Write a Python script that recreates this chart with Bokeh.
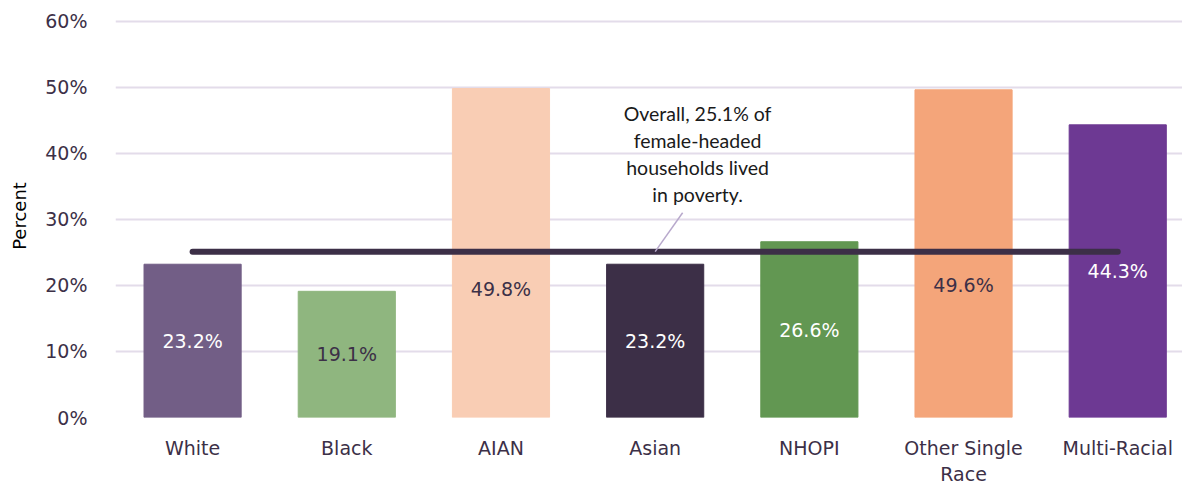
from bokeh.plotting import figure
from bokeh.models import Range1d, FixedTicker, ColumnDataSource, Label
from bokeh.core.properties import value
from bokeh.embed import file_html
from bokeh.resources import INLINE

categories = ["White", "Black", "AIAN", "Asian", "NHOPI", "Other Single\nRace", "Multi-Racial"]
poverty_pct = [23.2, 19.1, 49.8, 23.2, 26.6, 49.6, 44.3]
overall_pct = 25.1
bar_colors = ["#725e86", "#8fb67f", "#f9cdb4", "#3c2f47", "#629752", "#f4a57a", "#6d3993"]
label_colors = ["#ffffff", "#3c3047", "#3c3047", "#ffffff", "#ffffff", "#3c3047", "#ffffff"]
# label y positions: centred in bar, moved below the overall line where needed
label_y = [v / 2 for v in poverty_pct]
label_y[2] = 19.4
label_y[5] = 20.1
y_ticks = [0, 10, 20, 30, 40, 50, 60]

xs = list(range(len(categories)))

p = figure(width=1182, height=487, output_backend="svg", toolbar_location=None,
           x_range=Range1d(-0.5, 6.42), y_range=Range1d(0, 61),
           min_border_left=115, min_border_right=0, min_border_top=14, min_border_bottom=0)
p.outline_line_color = None
p.background_fill_color = "white"
p.border_fill_color = "white"

src = ColumnDataSource(dict(x=xs, top=poverty_pct, color=bar_colors,
                            ly=label_y, lab=[f"{v:.1f}%" for v in poverty_pct],
                            lc=label_colors))
p.vbar(x="x", top="top", bottom=0, width=0.63, color="color", source=src)

# overall line
p.line(x=[xs[0], xs[-1]], y=[overall_pct, overall_pct], line_color="#3c2f47",
       line_width=6, line_cap="round")

p.text(x="x", y="ly", text="lab", text_color="lc", source=src,
       text_align="center", text_baseline="middle",
       text_font=value("DejaVu Sans"), text_font_size="19px")

# callout
p.line(x=[3.0, 3.178], y=[overall_pct, 31.0], line_color="#b8a9cc", line_width=1.5)
ann_lines = ["Overall, 25.1% of", "female-headed", "households lived", "in poverty."]
for i, t in enumerate(ann_lines):
    p.add_layout(Label(x=3.275, y=46.05 - i * 4.09, text=t, text_align="center",
                       text_baseline="middle", text_font="Lato",
                       text_font_size="19.5px", text_color="#1a1a1a"))

# axes
p.xaxis.ticker = FixedTicker(ticks=xs)
p.xaxis.major_label_overrides = {i: c for i, c in enumerate(categories)}
p.xaxis.axis_line_color = None
p.xaxis.major_tick_line_color = None
p.xaxis.minor_tick_line_color = None
p.xaxis.major_label_text_font = "DejaVu Sans"
p.xaxis.major_label_text_font_size = "19px"
p.xaxis.major_label_text_color = "#3c3047"
p.xaxis.major_label_standoff = 13

p.yaxis.ticker = FixedTicker(ticks=y_ticks)
p.yaxis.major_label_overrides = {t: f"{t}%" for t in y_ticks}
p.yaxis.axis_line_color = None
p.yaxis.major_tick_line_color = None
p.yaxis.minor_tick_line_color = None
p.yaxis.major_label_text_font = "DejaVu Sans"
p.yaxis.major_label_text_font_size = "19px"
p.yaxis.major_label_text_color = "#3c3047"
p.yaxis.major_label_standoff = 22
p.yaxis.axis_label = "Percent"
p.yaxis.axis_label_text_font = "DejaVu Sans"
p.yaxis.axis_label_text_font_size = "18px"
p.yaxis.axis_label_text_font_style = "normal"
p.yaxis.axis_label_text_color = "#000000"
p.yaxis.axis_label_standoff = 12

p.xgrid.grid_line_color = None
p.ygrid.grid_line_color = "#e3dcea"
p.ygrid.grid_line_width = 2
p.ygrid.ticker = FixedTicker(ticks=y_ticks)

open("out.html", "w").write(file_html(p, INLINE))
